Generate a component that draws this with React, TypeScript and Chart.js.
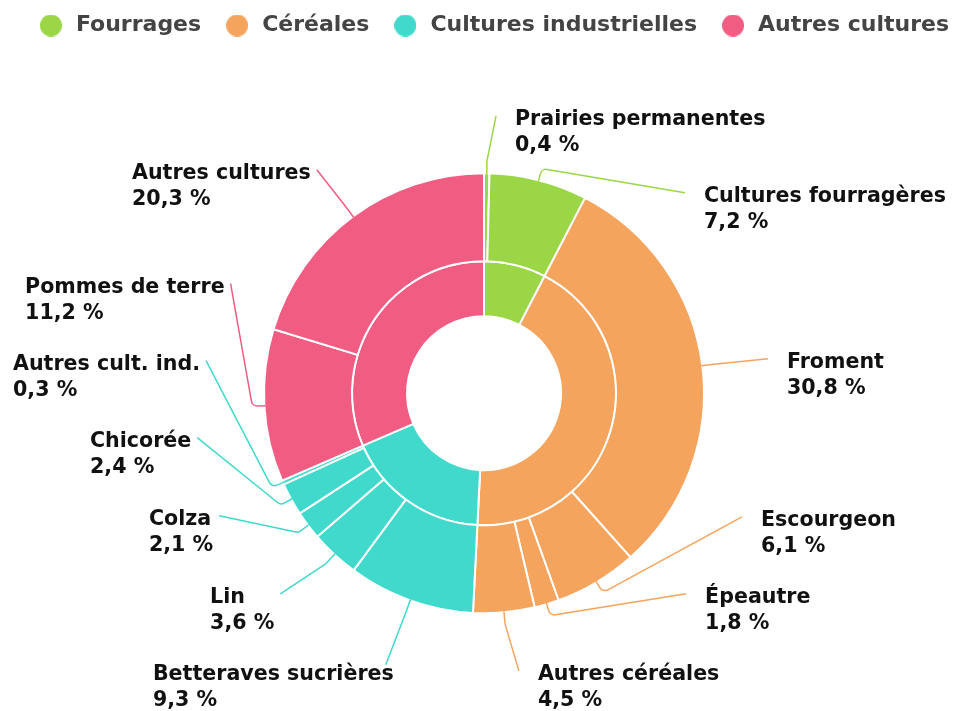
import React, { useEffect, useRef } from 'react';
import { Chart, registerables } from 'chart.js';

Chart.register(...registerables);

// ---- data ----
const groupNames = ['Fourrages', 'Céréales', 'Cultures industrielles', 'Autres cultures'];
const groupValues = [7.6, 43.2, 17.7, 31.5];
const groupColors = ['#9BD646', '#F5A45D', '#40D9CB', '#F05C82'];

const cropNames = [
  'Prairies permanentes',
  'Cultures fourragères',
  'Froment',
  'Escourgeon',
  'Épeautre',
  'Autres céréales',
  'Betteraves sucrières',
  'Lin',
  'Colza',
  'Chicorée',
  'Autres cult. ind.',
  'Pommes de terre',
  'Autres cultures',
];
const cropValues = [0.4, 7.2, 30.8, 6.1, 1.8, 4.5, 9.3, 3.6, 2.1, 2.4, 0.3, 11.2, 20.3];
const cropGroup = [0, 0, 1, 1, 1, 1, 2, 2, 2, 2, 2, 3, 3];

// ---- label layout (left edge / first line centre of each label, in outer-radius units from the centre) ----
const labelDx = [0.141, 1.0, 1.377, 1.259, 1.005, 0.245, -1.505, -1.245, -1.523, -1.791, -2.141, -2.086, -1.6];
const labelDy = [-1.243, -0.893, -0.139, 0.58, 0.93, 1.28, 1.28, 0.93, 0.575, 0.22, -0.13, -0.48, -0.998];

const LABEL_FONT = 'bold 20.6px "DejaVu Sans"';
const LINE_H = 26;

const fmt = (v: number) => v.toFixed(1).replace('.', ',') + ' %';

function dotImage(color: string): HTMLCanvasElement {
  const c = document.createElement('canvas');
  c.width = 22;
  c.height = 22;
  const g = c.getContext('2d')!;
  g.fillStyle = color;
  g.beginPath();
  g.arc(11, 11, 11, 0, Math.PI * 2);
  g.fill();
  return c;
}

const outLabels = {
  id: 'outLabels',
  afterDatasetsDraw(chart: any) {
    const meta = chart.getDatasetMeta(0);
    const ctx = chart.ctx as CanvasRenderingContext2D;
    ctx.save();
    ctx.font = LABEL_FONT;
    ctx.textBaseline = 'middle';
    ctx.textAlign = 'left';
    meta.data.forEach((arc: any, i: number) => {
      const { x, y, startAngle, endAngle, outerRadius } = arc.getProps(
        ['x', 'y', 'startAngle', 'endAngle', 'outerRadius'],
        true
      );
      const R = outerRadius;
      const mid = (startAngle + endAngle) / 2;
      const c = Math.cos(mid);
      const s = Math.sin(mid);
      const sx = x + c * (R - 1);
      const sy = y + s * (R - 1);
      const bx = x + c * (R + 12);
      const by = y + s * (R + 12);
      const lx = x + labelDx[i] * R;
      const ly = y + labelDy[i] * R;
      const l1 = cropNames[i];
      const l2 = fmt(cropValues[i]);
      const w = Math.max(ctx.measureText(l1).width, ctx.measureText(l2).width);
      let tx: number;
      let ty: number;
      if (lx > x) {
        tx = lx - 19;
        ty = ly - 4;
      } else if (ly - y > R * 1.2) {
        tx = lx + w - 8;
        ty = ly - 10;
      } else {
        tx = lx + w + 6;
        ty = ly - 4;
      }
      ctx.strokeStyle = groupColors[cropGroup[i]];
      ctx.lineWidth = 1.5;
      ctx.beginPath();
      ctx.moveTo(sx, sy);
      ctx.arcTo(bx, by, tx, ty, 6);
      ctx.lineTo(tx, ty);
      ctx.stroke();
      ctx.fillStyle = '#111';
      ctx.fillText(l1, lx, ly);
      ctx.fillText(l2, lx, ly + LINE_H);
    });
    ctx.restore();
  },
};

const legendShift = {
  id: 'legendShift',
  afterLayout(chart: any) {
    const lg = chart.legend;
    if (lg) {
      lg.left += 9;
      lg.right += 9;
    }
  },
};

export default function App() {
  const ref = useRef<HTMLCanvasElement>(null);

  useEffect(() => {
    const canvas = ref.current!;
    const dots = groupColors.map(dotImage);
    const chart = new Chart(canvas, {
      type: 'doughnut',
      data: {
        labels: cropNames,
        datasets: [
          {
            label: 'Cultures',
            data: cropValues,
            backgroundColor: cropGroup.map((g) => groupColors[g]),
            borderColor: '#ffffff',
            borderWidth: 2,
            weight: 1.6,
          } as any,
          {
            label: 'Groupes',
            data: groupValues,
            backgroundColor: groupColors,
            borderColor: '#ffffff',
            borderWidth: 2,
            weight: 1,
          } as any,
        ],
      },
      options: {
        responsive: false,
        animation: false,
        radius: 220,
        cutout: '35%',
        layout: { padding: { top: -7.5, bottom: 0, left: 0, right: 0 } },
        plugins: {
          tooltip: { enabled: false },
          legend: {
            display: true,
            position: 'top',
            labels: {
              usePointStyle: true,
              pointStyleWidth: 28,
              boxHeight: 22,
              padding: 22,
              color: '#444',
              font: { family: '"DejaVu Sans"', size: 22, weight: 'bold' },
              generateLabels: () =>
                groupNames.map((n, i) => ({
                  text: n,
                  fillStyle: groupColors[i],
                  strokeStyle: groupColors[i],
                  lineWidth: 0,
                  pointStyle: dots[i],
                  hidden: false,
                  index: i,
                  datasetIndex: 1,
                  fontColor: '#444',
                })),
            },
          },
        },
      } as any,
      plugins: [outLabels, legendShift],
    });
    return () => chart.destroy();
  }, []);

  return (
    <div style={{ position: 'fixed', left: 0, top: 0, width: 968, height: 740, background: '#fff' }}>
      <canvas ref={ref} width={968} height={740} style={{ display: 'block' }} />
    </div>
  );
}
